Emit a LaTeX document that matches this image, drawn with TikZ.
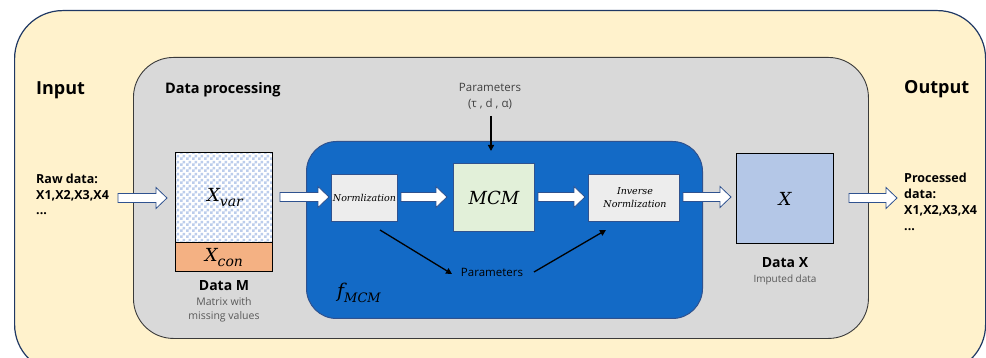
\documentclass[tikz,border=0pt]{standalone}
\usepackage{fontspec}
\setmainfont{Open Sans}
\newfontfamily\dvs{DejaVu Serif}
\usetikzlibrary{patterns,arrows.meta}
\definecolor{outerfill}{HTML}{FFF2CC}
\definecolor{outerline}{HTML}{1F3864}
\definecolor{grayfill}{HTML}{D9D9D9}
\definecolor{grayline}{HTML}{3A3A3A}
\definecolor{bluefill}{HTML}{136AC6}
\definecolor{navy}{HTML}{2F528F}
\definecolor{lightbox}{HTML}{EDEDED}
\definecolor{mcmfill}{HTML}{E2F0D9}
\definecolor{xfill}{HTML}{B4C7E7}
\definecolor{confill}{HTML}{F4B183}
\definecolor{checkc}{HTML}{BCCDEC}
\definecolor{paramtext}{HTML}{404040}
\definecolor{subtext}{HTML}{595959}
\pgfdeclarepatternformonly{checkthree}{\pgfpointorigin}{\pgfqpoint{6pt}{6pt}}{\pgfqpoint{6pt}{6pt}}{%
  \pgfpathrectangle{\pgfpointorigin}{\pgfqpoint{3pt}{3pt}}%
  \pgfpathrectangle{\pgfqpoint{3pt}{3pt}}{\pgfqpoint{3pt}{3pt}}%
  \pgfusepath{fill}}
\newcommand\fatarr[3]{\draw[fatstyle] (#1,#3-4.5) -- (#2-11,#3-4.5) -- (#2-11,#3-10.5) -- (#2,#3) -- (#2-11,#3+10.5) -- (#2-11,#3+4.5) -- (#1,#3+4.5) -- cycle;}
% italic serif with subscript: base, subscript, base size, sub size
\newcommand\msub[4]{{\dvs\itshape\fontsize{#3}{#3}\selectfont #1\raisebox{-0.28em}{\fontsize{#4}{#4}\selectfont #2}}}
\begin{document}
\begin{tikzpicture}[x=1pt,y=-1pt,
  fatstyle/.style={draw=navy, fill=white, line width=0.8pt},
  container/.style={draw, anchor=north west, inner sep=0pt},
  procbox/.style={draw=navy, line width=0.9pt, anchor=north west, inner sep=0pt},
  thinarrow/.style={line width=1.3pt, -{Triangle[length=6pt,width=6pt]}},
  lbl/.style={inner sep=0pt, text=black},
  serifit/.style={inner sep=0pt, font=\dvs\itshape\fontsize{#1}{#1}\selectfont}
]
\useasboundingbox (0,0) rectangle (986,358);
\clip (0,0) rectangle (986,358);
% containers
\node[container, draw=outerline, fill=outerfill, line width=1.2pt, rounded corners=48pt,
  minimum width=971pt, minimum height=362pt] (outer) at (14,10) {};
\node[container, draw=grayline, fill=grayfill, line width=0.9pt, rounded corners=40pt,
  minimum width=735pt, minimum height=281pt] (proc) at (133,57) {};
\node[container, draw=navy, fill=bluefill, line width=1pt, rounded corners=30pt,
  minimum width=396pt, minimum height=177pt] (fmcm) at (306,141) {};
% titles
\node[lbl, anchor=west, font=\bfseries\fontsize{18}{20}\selectfont] (input) at (36,90) {Input};
\node[lbl, anchor=west, font=\bfseries\fontsize{14.5}{16}\selectfont] (dproc) at (165,90) {Data processing};
\node[lbl, anchor=west, font=\bfseries\fontsize{18}{20}\selectfont] (output) at (904,89) {Output};
% raw data
\node[lbl, anchor=north west, align=left, font=\bfseries\fontsize{12.5}{15.5}\selectfont] (raw) at (36,174)
  {Raw data:\\X1,X2,X3,X4\\...};
\node[lbl, anchor=north west, align=left, font=\bfseries\fontsize{12.5}{16}\selectfont] (processed) at (904,173)
  {Processed\\data:\\X1,X2,X3,X4\\...};
% Data M
\node[procbox, draw=black, line width=0.9pt, minimum width=97pt, minimum height=90pt,
  preaction={fill=white}, pattern=checkthree, pattern color=checkc] (xvar) at (175,152) {};
\node[inner sep=0pt] (xvart) at ([xshift=1pt]xvar.center) {\msub{X}{var}{18}{14}};
\node[procbox, draw=black, line width=0.9pt, fill=confill, minimum width=97pt, minimum height=29pt] (xcon) at (175,242) {};
\node[inner sep=0pt] (xcont) at ([yshift=-1pt]xcon.center) {\msub{X}{con}{18}{14}};
\node[lbl, font=\bfseries\fontsize{14}{16}\selectfont] (datam) at (224,286) {Data M};
\node[lbl, align=center, text=subtext, font=\fontsize{10.5}{14.5}\selectfont] (datamsub) at (224,310) {Matrix with\\missing values};
% processing boxes
\node[procbox, fill=lightbox, minimum width=66pt, minimum height=47pt] (norm) at (331,174) {};
\node[serifit=9.5] (normt) at (norm.center) {Normlization};
\node[procbox, fill=mcmfill, minimum width=81pt, minimum height=68pt] (mcm) at (453,163) {};
\node[serifit=18] (mcmt) at (mcm.center) {MCM};
\node[procbox, fill=lightbox, minimum width=91pt, minimum height=47pt] (inorm) at (588,174) {};
\node[serifit=9.5, align=center, font=\dvs\itshape\fontsize{9.5}{13}\selectfont] (inormt) at ([xshift=1pt]inorm.center) {Inverse\\Normlization};
\node[inner sep=0pt, text=black] (flabel) at (359,293) {\msub{f}{MCM}{19}{13}};
% Data X
\node[procbox, draw=black, line width=0.9pt, fill=xfill, minimum width=97pt, minimum height=90pt] (datax) at (736,153) {};
\node[serifit=18] (xt) at (datax.center) {X};
\node[lbl, font=\bfseries\fontsize{14}{16}\selectfont] (dataxl) at (785,263) {Data X};
\node[lbl, text=subtext, font=\fontsize{10}{12}\selectfont] (dataxsub) at (785,280) {Imputed data};
% parameters
\node[lbl, align=center, text=paramtext, font=\fontsize{11.5}{16}\selectfont] (ptop) at (490,96) {Parameters\\(τ , d , α)};
\node[lbl, text=black, font=\fontsize{11.5}{12}\selectfont] (pmid) at (492,272) {Parameters};
\coordinate (ptopend) at (491,151);
\coordinate (nstart) at (380,230);
\coordinate (inend) at (606,230);
\draw[thinarrow] (491,116) -- (ptopend);
\draw[thinarrow] (nstart) -- ([xshift=-40pt,yshift=-2pt]pmid.center);
\draw[thinarrow] ([xshift=42pt]pmid.center) -- (inend);
% fat arrows
\fatarr{118}{167}{198}
\fatarr{280}{329}{197}
\fatarr{401}{447}{197}
\fatarr{538}{585}{197}
\fatarr{683}{731}{197}
\fatarr{849}{897}{198}
\end{tikzpicture}
\end{document}
